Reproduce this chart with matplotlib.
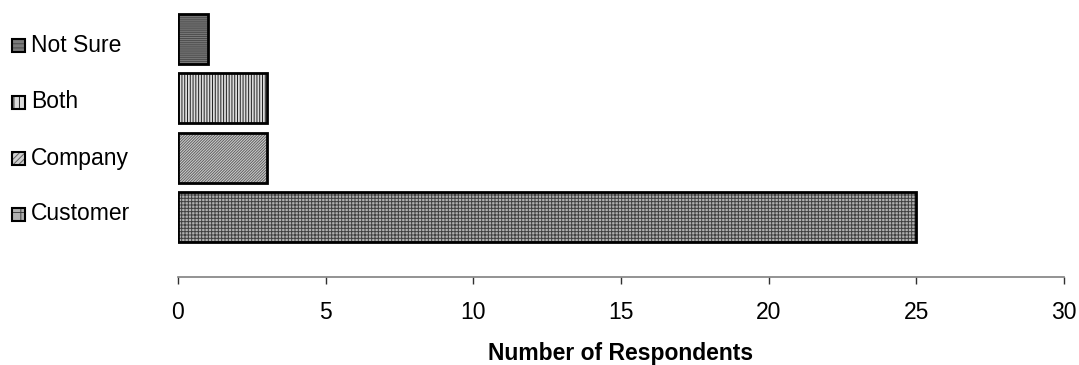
import matplotlib
matplotlib.use("Agg")
import matplotlib.pyplot as plt
from matplotlib.patches import Rectangle

# responses, bottom to top
categories = ["Customer", "Company", "Both", "Not Sure"]
respondents = [25, 3, 3, 1]

# fill, hatch pattern, hatch colour per category
fills = ["#b0b0b0", "#d0d0d0", "#dcdcdc", "#7a7a7a"]
hatches = ["+++++", "////////////", "||||||", "--------"]
hatch_colors = ["#404040", "#606060", "#202020", "#4a4a4a"]

plt.rcParams["font.family"] = ["Liberation Sans", "DejaVu Sans"]
plt.rcParams["hatch.linewidth"] = 0.7

W, H = 1079, 365
fig = plt.figure(figsize=(W / 100, H / 100), dpi=100)
ax = fig.add_axes([178 / W, 88 / H, 886 / W, 267.6 / H])

ypos = list(range(len(categories)))
# patterned fill first, black outline on top
ax.barh(ypos, respondents, height=0.84, color=fills, hatch=hatches,
        edgecolor=hatch_colors, linewidth=0)
ax.barh(ypos, respondents, height=0.84, fill=False,
        edgecolor="black", linewidth=2)

ax.set_xlim(0, 30)
ax.set_ylim(-1.01, 3.5)
ax.set_xticks(range(0, 31, 5))
ax.set_yticks([])

for side in ("left", "right", "top"):
    ax.spines[side].set_visible(False)
ax.spines["bottom"].set_color("#808080")
ax.spines["bottom"].set_linewidth(1.2)
ax.tick_params(axis="x", direction="out", length=5, width=1,
               color="#303030", labelsize=16.5, pad=12)

# axis title, centred under the plot area
fig.text((178 + 1064) / 2 / W, 1 - 360 / H, "Number of Respondents",
         fontsize=16.5, fontweight="bold", ha="center", va="baseline")

# legend-style category labels with a pattern swatch (pixel rows from top)
label_rows = [214, 158, 102, 45]
for py, name, fc, h, hc in zip(label_rows, categories, fills, hatches,
                               hatch_colors):
    y = 1 - py / H
    box = (12 / W, y - 6.5 / H)
    fig.add_artist(Rectangle(box, 13 / W, 13 / H, transform=fig.transFigure,
                             facecolor=fc, hatch=h[:len(h) // 2],
                             edgecolor=hc, linewidth=0))
    fig.add_artist(Rectangle(box, 13 / W, 13 / H, transform=fig.transFigure,
                             fill=False, edgecolor="black", linewidth=1.5))
    fig.text(31 / W, y, name, fontsize=16.5, va="center", ha="left")

fig.savefig("out.png", dpi=100)
